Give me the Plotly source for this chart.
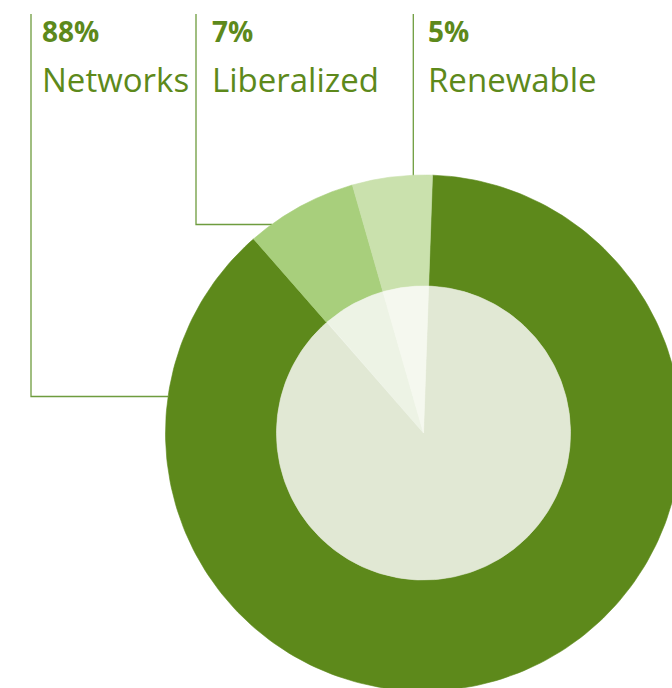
import numpy as np
import plotly.graph_objects as go

# ---- data ----
categories = ["Networks", "Liberalized", "Renewable"]
shares = [88, 7, 5]
pct_labels = ["88%", "7%", "5%"]

# ---- style ----
outer_colors = ["#5d891b", "#a8cf7c", "#cae1ad"]
inner_colors = ["#e1e8d4", "#edf3e5", "#f5f8ef"]
text_color = "#5d891b"
line_color = "#6e9c3e"

W, H = 672, 688
CX, CY = 423.5, 433.0
R_OUT, R_IN = 258.0, 147.0
START_DEG = 2.0  # clockwise from 12 o'clock

fig = go.Figure()
total = float(sum(shares))
cum = START_DEG
for cat, v, oc, ic in zip(categories, shares, outer_colors, inner_colors):
    a0 = cum
    a1 = cum + v / total * 360.0
    cum = a1
    th = np.radians(np.linspace(a0, a1, 240))
    xo = CX + R_OUT * np.sin(th)
    yo = CY - R_OUT * np.cos(th)
    xi = CX + R_IN * np.sin(th)
    yi = CY - R_IN * np.cos(th)
    # outer ring segment
    fig.add_trace(go.Scatter(
        x=np.concatenate([xo, xi[::-1], xo[:1]]),
        y=np.concatenate([yo, yi[::-1], yo[:1]]),
        mode="lines", fill="toself", fillcolor=oc,
        line=dict(color=oc, width=0.6), hoverinfo="skip", name=cat,
        showlegend=False))
    # inner pie segment
    fig.add_trace(go.Scatter(
        x=np.concatenate([[CX], xi, [CX]]),
        y=np.concatenate([[CY], yi, [CY]]),
        mode="lines", fill="toself", fillcolor=ic,
        line=dict(color=ic, width=0.6), hoverinfo="skip", name=cat,
        showlegend=False))

# leader lines
line_style = dict(color=line_color, width=1.3)
fig.add_shape(type="path", path="M 31,14 L 31,396.5 L 168,396.5",
              line=line_style, xref="x", yref="y", layer="below")
fig.add_shape(type="path", path="M 196,14 L 196,224.5 L 272,224.5",
              line=line_style, xref="x", yref="y", layer="below")
fig.add_shape(type="path", path="M 413.3,14 L 413.3,176",
              line=line_style, xref="x", yref="y", layer="below")

label_x = [40, 210, 426]
for lx, pct, cat in zip(label_x, pct_labels, categories):
    fig.add_annotation(x=lx, y=31, xref="x", yref="y", text="<b>" + pct + "</b>",
                       showarrow=False, xanchor="left", yanchor="middle",
                       font=dict(family="Open Sans", size=28, color=text_color))
    fig.add_annotation(x=lx, y=79, xref="x", yref="y", text=cat,
                       showarrow=False, xanchor="left", yanchor="middle",
                       font=dict(family="Open Sans", size=33, color=text_color))

fig.update_layout(
    width=W, height=H,
    margin=dict(l=0, r=0, t=0, b=0),
    paper_bgcolor="white", plot_bgcolor="white",
    xaxis=dict(range=[0, W], visible=False, fixedrange=True),
    yaxis=dict(range=[H, 0], visible=False, fixedrange=True),
    showlegend=False,
)

fig.write_html(
    "out.html",
    config={"displayModeBar": False, "staticPlot": True},
    post_script="document.body.style.margin='0';document.body.style.overflow='hidden';",
)
